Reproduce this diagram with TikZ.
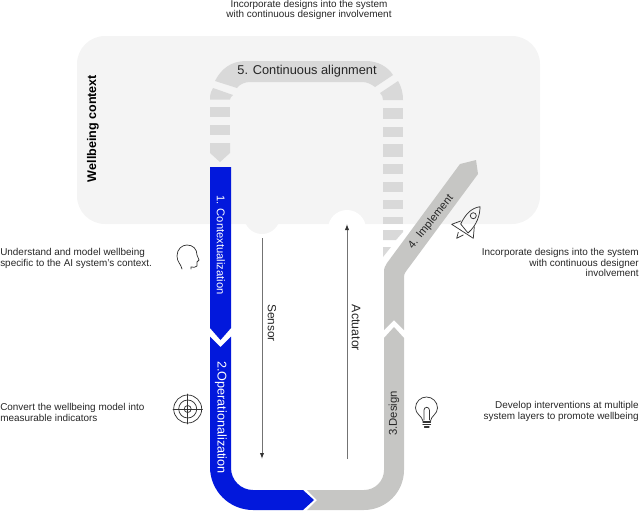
\documentclass[tikz,border=0pt]{standalone}
\usepackage{fontspec}
\setmainfont{Liberation Sans}
\usetikzlibrary{arrows.meta}
\definecolor{ctx}{HTML}{F4F4F4}
\definecolor{dashg}{HTML}{D9D9D9}
\definecolor{armg}{HTML}{C6C6C4}
\definecolor{blu}{HTML}{0218DC}
\definecolor{txt}{HTML}{262626}
\definecolor{icn}{HTML}{333333}
\tikzset{
  note/.style={font=\fontsize{7.45}{7.9}\selectfont,text=txt,inner sep=0pt,align=left},
  noter/.style={note,align=right},
  notec/.style={note,align=center},
  onblue/.style={text=white,inner sep=0pt},
  ongrey/.style={text=txt,inner sep=0pt},
  axislabel/.style={text=txt,inner sep=0pt},
  signal/.style={draw=black!55,line width=0.7pt,-{Latex[length=4.5pt,width=3.2pt,black!80]}},
  icon/.style={draw=icn,line width=0.55pt,fill=none,line join=round,line cap=round},
  dashbit/.style={fill=dashg,draw=none},
}
\begin{document}
\begin{tikzpicture}[x=0.75pt,y=-0.75pt]
\useasboundingbox (0,0) rectangle (640,511);
% context
\fill[ctx] (262,216) circle[radius=18];
\fill[ctx,rounded corners=21pt] (77,36) rectangle (540,224);
\fill[white] (347,229) circle[radius=19];
% dashed loop
\foreach \a/\b in {107/117,125/135}{\fill[dashbit] (210,\a) rectangle (230,\b);}
\foreach \a/\b in {108/119,127/137,144/157,164/174,182/192,200/209,217/224}{\fill[dashbit] (383,\a) rectangle (403,\b);}
\fill[dashbit] (210,143) -- (230,143) -- (230,153) -- (220,162) -- (210,153) -- cycle;
\fill[dashbit] (383,230) -- (403,230) -- (403,232) -- (396,240) -- (383,240) -- cycle;
\fill[dashbit] (383,247) -- (391,247) -- (383,257) -- cycle;
\fill[dashbit] (210,99.5) .. controls (210,94) and (211,91) .. (213,88) -- (233,95) .. controls (231.5,96) and (230,98) .. (230,99.5) -- cycle;
\fill[dashbit] (403,100) .. controls (403,92) and (401,86) .. (398,81) -- (380,93) .. controls (382,95) and (383,97) .. (383,100) -- cycle;
\fill[dashbit] (215,81) .. controls (221,69) and (231,61) .. (246,61) -- (366,61) .. controls (378,61) and (388,67) .. (393,75) -- (375,87) .. controls (371,84) and (367,82) .. (362,82) -- (250,82) .. controls (245,82) and (240,84) .. (237,88) -- cycle;
\node[font=\fontsize{9.6}{11}\selectfont,text=txt,inner sep=0pt] (five) at (307,71) {5. Continuous alignment};
% blue
\fill[blu] (210,167) -- (231,167) -- (231,328) -- (220.5,340) -- (210,328) -- cycle;
\fill[blu] (210,336.5) -- (220.5,347) -- (231,336.5) -- (231,468) arc[start angle=180,end angle=90,radius=22] -- (303,490) -- (314,500) -- (303,510) -- (253,510) arc[start angle=90,end angle=180,radius=43] -- cycle;
% grey
\fill[armg] (307,490) -- (317,500) -- (307,510) -- (364,510) arc[start angle=90,end angle=0,radius=40] -- (404,338) -- (394,327) -- (384,338) -- (384,470) arc[start angle=0,end angle=90,radius=20] -- cycle;
\fill[armg] (384,330) -- (394,320) -- (404,330) -- (404,279) .. controls (404,275) and (404,274) .. (407,270) -- (478,174) -- (476,160) -- (460,164) -- (387,263) .. controls (385,266) and (384,268) .. (384,272) -- cycle;
% labels on the bands
\node[onblue,font=\fontsize{8.4}{10}\selectfont,rotate=-90] (one) at (221,245) {1. Contextualization};
\node[onblue,font=\fontsize{9.5}{11}\selectfont,rotate=-90] (two) at (221,417.5) {2.Operationalization};
\node[ongrey,font=\fontsize{8.5}{10}\selectfont,rotate=90] (three) at (394,413.5) {3.Design};
\node[ongrey,font=\fontsize{8.3}{10}\selectfont,rotate=51] (four) at (431,222) {4. Implement};
\node[font=\bfseries\fontsize{9.4}{11}\selectfont,text=black,inner sep=0pt,rotate=90] (ctxlab) at (93,128.5) {Wellbeing context};
% signals
\coordinate (sensA) at (262,238);
\coordinate (sensB) at (262,459);
\coordinate (actA) at (347,459);
\coordinate (actB) at (347,224);
\draw[signal] (sensA) -- (sensB);
\draw[signal] (actA) -- (actB);
\node[axislabel,font=\fontsize{8.9}{10}\selectfont,rotate=-90] (sensor) at (272,323) {Sensor};
\node[axislabel,font=\fontsize{9.3}{10}\selectfont,rotate=-90] (actuator) at (356,328) {Actuator};
% notes
\node[notec,anchor=center] (ntop) at (309,10) {Incorporate designs into the system\\with continuous designer involvement};
\node[noter,anchor=north east] (nimpl) at (639,248) {Incorporate designs into the system\\with continuous designer\\involvement};
\node[note,anchor=north west] (nctx) at (0,248.5) {Understand and model wellbeing\\specific to the AI system’s context.};
\node[note,anchor=north west] (nop) at (0,403) {Convert the wellbeing model into\\measurable indicators};
\node[noter,anchor=north east] (ndes) at (639,401) {Develop interventions at multiple\\system layers to promote wellbeing};
% head
\draw[icon] (182,269) .. controls (181,264) and (177,262) .. (177,256) .. controls (177,249) and (182,245) .. (187,245) .. controls (193,245) and (197,249) .. (197,255) -- (199,260) -- (197,262) -- (197,266) .. controls (196,268) and (193,267) .. (191,267) -- (191,269);
% target
\draw[icon] (187.7,409) circle[radius=14] circle[radius=9] circle[radius=3.5];
\draw[icon] (173,409) -- (202.5,409) (187.7,394) -- (187.7,424);
% bulb
\draw[icon] (423,421) .. controls (422,416) and (415.5,414) .. (415.5,408) arc[start angle=180,end angle=360,radius=11] .. controls (437.5,414) and (431,416) .. (430.5,421);
\draw[icon] (424,420) -- (424,410) arc[start angle=180,end angle=360,radius=2.7] -- (429.4,420);
\draw[icon,line width=1pt] (423,422) -- (430.5,422) (423,424.5) -- (430.5,424.5) (424.5,427) -- (429,427);
% rocket
\draw[icon] (480,206.7) .. controls (472,208) and (466,213) .. (460.7,224) -- (468,233) .. controls (477,225) and (480,215) .. (480,206.7) -- cycle;
\draw[icon] (460.7,221) -- (451.7,224.3) -- (473.3,238.3) -- (474.3,226.7);
\draw[icon] (473.3,215.7) circle[radius=3];
\draw[icon] (458.3,232.3) -- (456.7,238.3) -- (463.3,235);
\end{tikzpicture}
\end{document}
